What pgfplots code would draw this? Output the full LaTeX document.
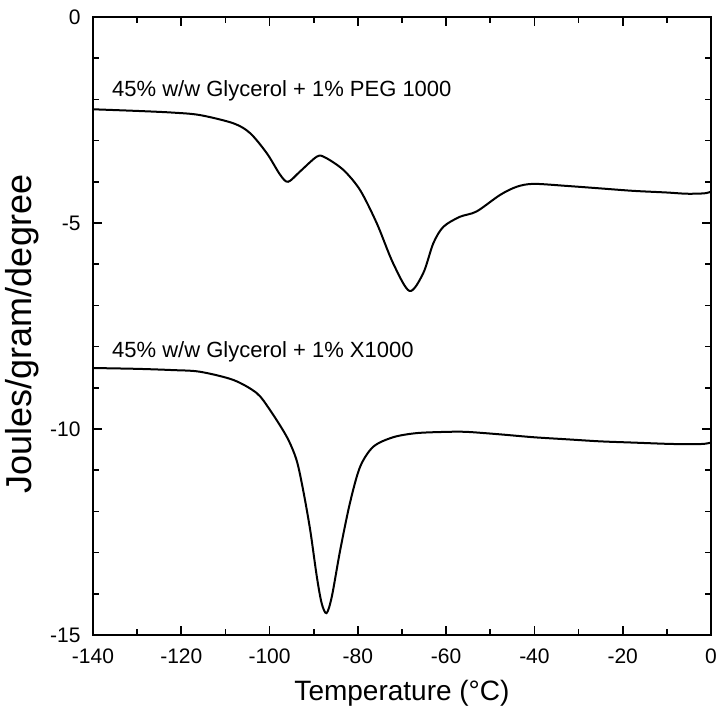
\documentclass[border=0pt]{standalone}
\usepackage{pgfplots}
\pgfplotsset{compat=1.18}
\usepackage{fontspec}
\setmainfont{Liberation Sans}

\begin{document}
\begin{tikzpicture}[x=1pt,y=1pt]
\useasboundingbox (-93,-72) rectangle (623,635);
\begin{axis}[
    at={(0,0)}, anchor=south west,
    scale only axis,
    width=618pt, height=618pt,
    xmin=-140, xmax=0, ymin=-15, ymax=0,
    xtick={-140,-120,...,0},
    ytick={-15,-10,-5,0},
    minor x tick num=1,
    minor y tick num=4,
    tick align=inside,
    ticks=both,
    major tick length=9pt,
    minor tick length=6pt,
    every tick/.style={black, line width=1.6pt},
    axis line style={line width=1.8pt},
    /pgf/number format/assume math mode=true,
    tick label style={font=\fontsize{21}{23}\selectfont},
    yticklabel style={xshift=-9pt},
    xticklabel style={yshift=-10pt},
    xlabel={Temperature (°C)},
    ylabel={Joules/gram/degree},
    xlabel style={font=\fontsize{28}{30}\selectfont, yshift=-10pt},
    ylabel style={font=\fontsize{36}{38}\selectfont, yshift=4pt, xshift=-8pt},
    clip=false,
]
\addplot[black, line width=2pt, smooth] coordinates {
(-140,-2.24) (-130,-2.28) (-122,-2.32) (-115.8,-2.38) (-108.2,-2.58)
(-104.4,-2.82) (-100.6,-3.31) (-97.6,-3.83) (-95.8,-4.0) (-93.1,-3.75)
(-89.3,-3.39) (-87.4,-3.41) (-83.3,-3.71) (-79.5,-4.20) (-75.7,-5.01)
(-72.0,-5.98) (-68.3,-6.65) (-65.2,-6.22) (-62.9,-5.49) (-60.6,-5.09)
(-56.9,-4.85) (-53.1,-4.72) (-47.8,-4.32) (-44.0,-4.12) (-40.2,-4.05)
(-32.7,-4.10) (-25.1,-4.16) (-17.6,-4.22) (-10.0,-4.26) (-5.5,-4.29)
(-1.5,-4.28) (0,-4.24)
};
\addplot[black, line width=2pt, smooth] coordinates {
(-140,-8.52) (-130,-8.54) (-122,-8.57) (-115.8,-8.61) (-108.2,-8.81)
(-102.9,-9.13) (-99.9,-9.54) (-96.1,-10.19) (-93.9,-10.75) (-92.4,-11.48)
(-90.8,-12.45) (-89.3,-13.58) (-88.2,-14.23) (-87.1,-14.47) (-85.9,-14.07)
(-84.0,-12.94) (-81.8,-11.80) (-79.5,-10.92) (-76.5,-10.43) (-72.0,-10.20)
(-66.7,-10.10) (-60,-10.07) (-55.3,-10.07) (-47.8,-10.13) (-40.2,-10.20)
(-32.7,-10.25) (-25.1,-10.30) (-17.6,-10.33) (-10.0,-10.36) (-4.8,-10.37)
(-1.5,-10.36) (0,-10.33)
};
\node[anchor=west, inner sep=0pt, font=\fontsize{22}{24}\selectfont] at (axis cs:-135.7,-1.80) {45\% w/w Glycerol + 1\% PEG 1000};
\node[anchor=west, inner sep=0pt, font=\fontsize{22}{24}\selectfont] at (axis cs:-135.7,-8.13) {45\% w/w Glycerol + 1\% X1000};
\end{axis}
\end{tikzpicture}
\end{document}
